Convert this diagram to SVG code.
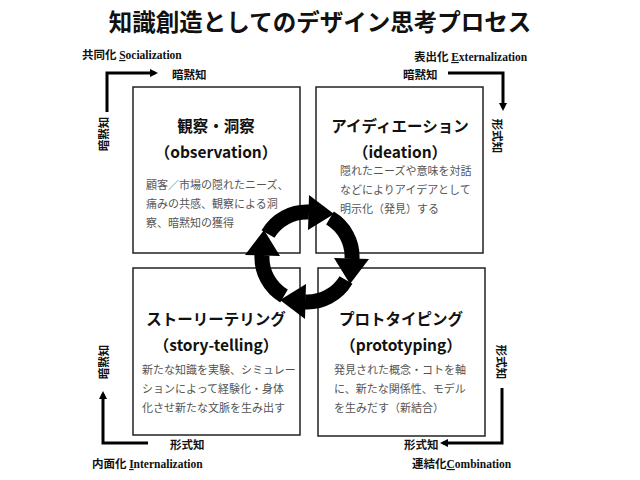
<svg xmlns="http://www.w3.org/2000/svg" width="640" height="480" viewBox="0 0 640 480">
<style>
.t{font-family:"Noto Sans CJK JP","Liberation Sans",sans-serif;fill:#111}
.h{font-size:15.5px;font-weight:bold;text-anchor:middle}
.d{font-size:11px;fill:#555}
.s{font-size:11.5px;font-weight:bold}
.e{font-family:"Liberation Serif","Noto Sans CJK JP",serif;font-weight:bold;font-size:11.5px}
.box{fill:#fff;stroke:#222;stroke-width:1.5}
.ln{fill:none;stroke:#000;stroke-width:3}
</style>
<defs>
<marker id="ah" markerWidth="8" markerHeight="8" refX="5" refY="4" orient="auto" markerUnits="userSpaceOnUse"><path d="M0,0 L8,4 L0,8 z" fill="#000"/></marker>
<g id="seg"><path d="M268,234 A45,45 0 0 1 309,212" fill="none" stroke="#000" stroke-width="15"/><path d="M309,195 L334,214 L308,230 z" fill="#000"/></g>
</defs>
<rect width="640" height="480" fill="#fff"/>
<text class="t" x="320" y="31" font-size="23.5" font-weight="bold" text-anchor="middle">知識創造としてのデザイン思考プロセス</text>
<g id="observation"><rect class="box" x="133" y="87" width="167" height="166"/>
<text class="t h" x="216" y="132">観察・洞察</text><text class="t h" x="216" y="158">（observation）</text>
<text class="t d" x="146" y="189">顧客／市場の隠れたニーズ、</text><text class="t d" x="146" y="208">痛みの共感、観察による洞</text><text class="t d" x="146" y="227">察、暗黙知の獲得</text></g>
<g id="ideation"><rect class="box" x="316" y="87" width="167" height="166"/>
<text class="t h" x="400" y="132">アイディエーション</text><text class="t h" x="400" y="158">（ideation）</text>
<text class="t d" x="340" y="175">隠れたニーズや意味を対話</text><text class="t d" x="340" y="194">などによりアイデアとして</text><text class="t d" x="340" y="213">明示化（発見）する</text></g>
<g id="storytelling"><rect class="box" x="133" y="268" width="167" height="167"/>
<text class="t h" x="216" y="325">ストーリーテリング</text><text class="t h" x="216" y="351">（story-telling）</text>
<text class="t d" x="142" y="374">新たな知識を実験、シミュレー</text><text class="t d" x="142" y="393">ションによって経験化・身体</text><text class="t d" x="142" y="412">化させ新たな文脈を生み出す</text></g>
<g id="prototyping"><rect class="box" x="318" y="268" width="167" height="168"/>
<text class="t h" x="401" y="325">プロトタイピング</text><text class="t h" x="401" y="351">（prototyping）</text>
<text class="t d" x="334" y="374">発見された概念・コトを軸</text><text class="t d" x="334" y="393">に、新たな関係性、モデル</text><text class="t d" x="334" y="412">を生みだす（新結合）</text></g>
<g id="cycle">
<use href="#seg"/>
<use href="#seg" transform="rotate(90 307 257)"/>
<use href="#seg" transform="rotate(180 307 257)"/>
<use href="#seg" transform="rotate(270 307 257)"/>
</g>
<g id="connectors">
<path class="ln" d="M107,112 V73 H155" marker-end="url(#ah)"/>
<path class="ln" d="M448,73 H503 V108" marker-end="url(#ah)"/>
<path class="ln" d="M502,388 V443 H443" marker-end="url(#ah)"/>
<path class="ln" d="M148,443 H103 V394" marker-end="url(#ah)"/>
</g>
<g id="labels">
<text class="t s" x="82" y="59">共同化 <tspan class="e" text-decoration="underline">S</tspan><tspan class="e">ocialization</tspan></text>
<text class="t s" x="172" y="79">暗黙知</text>
<text class="t s" transform="translate(108,134) rotate(-90)" text-anchor="middle">暗黙知</text>
<text class="t s" x="414" y="61">表出化 <tspan class="e" text-decoration="underline">E</tspan><tspan class="e">xternalization</tspan></text>
<text class="t s" x="403" y="79">暗黙知</text>
<text class="t s" transform="translate(493,136) rotate(90)" text-anchor="middle">形式知</text>
<text class="t s" transform="translate(497,362) rotate(90)" text-anchor="middle">形式知</text>
<text class="t s" x="404" y="449">形式知</text>
<text class="t s" x="412" y="468">連結化<tspan class="e" text-decoration="underline">C</tspan><tspan class="e">ombination</tspan></text>
<text class="t s" transform="translate(108,362) rotate(-90)" text-anchor="middle">暗黙知</text>
<text class="t s" x="170" y="449">形式知</text>
<text class="t s" x="92" y="468">内面化 <tspan class="e" text-decoration="underline">I</tspan><tspan class="e">nternalization</tspan></text>
</g>
</svg>
